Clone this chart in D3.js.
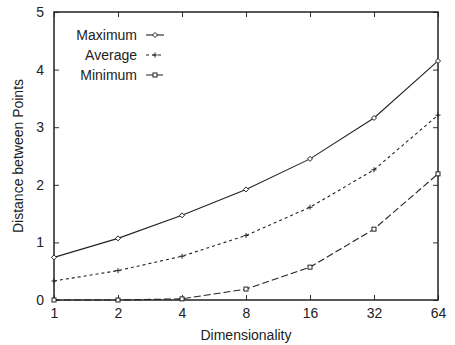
<!DOCTYPE html>
<html>
<head>
<meta charset="utf-8">
<script src="https://cdn.jsdelivr.net/npm/d3@7"></script>
<style>
  body { margin: 0; background: #fff; }
  text { font-family: "Liberation Sans", Arial, sans-serif; fill: #222; }
</style>
</head>
<body>
<div id="chart"></div>
<script>
// values
const dims = [1, 2, 4, 8, 16, 32, 64];
const maximum = [0.74, 1.07, 1.47, 1.92, 2.45, 3.16, 4.15];
const average = [0.33, 0.51, 0.76, 1.12, 1.61, 2.26, 3.21];
const minimum = [0.0, 0.0, 0.02, 0.19, 0.57, 1.23, 2.19];
const yTicks = [0, 1, 2, 3, 4, 5];

const series = [
  { name: "Maximum", values: maximum, dash: null, marker: "diamond" },
  { name: "Average", values: average, dash: "3,3", marker: "plus" },
  { name: "Minimum", values: minimum, dash: "7,3", marker: "square" }
];

const width = 455, height = 345;
const margin = { top: 12, right: 17, bottom: 45, left: 54 };
const w = width - margin.left - margin.right;
const h = height - margin.top - margin.bottom;

const svg = d3.select("#chart").append("svg")
  .attr("width", width)
  .attr("height", height);

const g = svg.append("g")
  .attr("transform", `translate(${margin.left},${margin.top})`);

const x = d3.scaleLog().base(2).domain([1, 64]).range([0, w]);
const y = d3.scaleLinear().domain([0, 5]).range([h, 0]);

// inward ticks on all four sides, gnuplot style
const tickLen = 5;
g.append("g")
  .attr("transform", `translate(0,${h})`)
  .call(d3.axisBottom(x).tickValues(dims).tickFormat(d3.format("d")).tickSize(-tickLen).tickPadding(8))
  .call(a => a.select(".domain").remove());
g.append("g")
  .call(d3.axisTop(x).tickValues(dims).tickFormat("").tickSize(-tickLen))
  .call(a => a.select(".domain").remove());
g.append("g")
  .call(d3.axisLeft(y).tickValues(yTicks).tickFormat(d3.format("d")).tickSize(-tickLen).tickPadding(10))
  .call(a => a.select(".domain").remove());
g.append("g")
  .attr("transform", `translate(${w},0)`)
  .call(d3.axisRight(y).tickValues(yTicks).tickFormat("").tickSize(-tickLen))
  .call(a => a.select(".domain").remove());

g.selectAll(".tick text").style("font-size", "14px");
g.selectAll(".tick line").attr("stroke", "#333");

g.append("rect")
  .attr("width", w).attr("height", h)
  .attr("fill", "none").attr("stroke", "#222").attr("stroke-width", 1.5);

const line = d3.line()
  .x((d, i) => x(dims[i]))
  .y(d => y(d));

function drawMarker(sel, type) {
  if (type === "diamond") {
    sel.append("path").attr("d", "M0,-2.5L2.5,0L0,2.5L-2.5,0Z")
      .attr("fill", "#fff").attr("stroke", "#222").attr("stroke-width", 1);
  } else if (type === "plus") {
    sel.append("path").attr("d", "M-2.5,0H2.5M0,-2.5V2.5")
      .attr("stroke", "#222").attr("stroke-width", 1);
  } else {
    sel.append("rect").attr("x", -2).attr("y", -2).attr("width", 4).attr("height", 4)
      .attr("fill", "#fff").attr("stroke", "#222").attr("stroke-width", 1);
  }
}

series.forEach(s => {
  g.append("path")
    .datum(s.values)
    .attr("fill", "none")
    .attr("stroke", "#222")
    .attr("stroke-width", 1.1)
    .attr("stroke-dasharray", s.dash)
    .attr("d", line);

  s.values.forEach((v, i) => {
    const m = g.append("g").attr("transform", `translate(${x(dims[i])},${y(v)})`);
    drawMarker(m, s.marker);
  });
});

// legend
const legend = g.append("g").attr("transform", "translate(0,23)");
series.forEach((s, i) => {
  const row = legend.append("g").attr("transform", `translate(0,${i * 20})`);
  row.append("text")
    .attr("x", 83).attr("y", 5)
    .attr("text-anchor", "end")
    .style("font-size", "14px")
    .text(s.name);
  row.append("line")
    .attr("x1", 92).attr("x2", 110)
    .attr("stroke", "#222").attr("stroke-width", 1.1)
    .attr("stroke-dasharray", s.dash);
  const m = row.append("g").attr("transform", "translate(101,0)");
  drawMarker(m, s.marker);
});

// axis titles
svg.append("text")
  .attr("x", margin.left + w / 2)
  .attr("y", 340)
  .attr("text-anchor", "middle")
  .style("font-size", "14px")
  .text("Dimensionality");

svg.append("text")
  .attr("transform", `translate(23,${margin.top + h / 2}) rotate(-90)`)
  .attr("text-anchor", "middle")
  .style("font-size", "14px")
  .text("Distance between Points");
</script>
</body>
</html>
